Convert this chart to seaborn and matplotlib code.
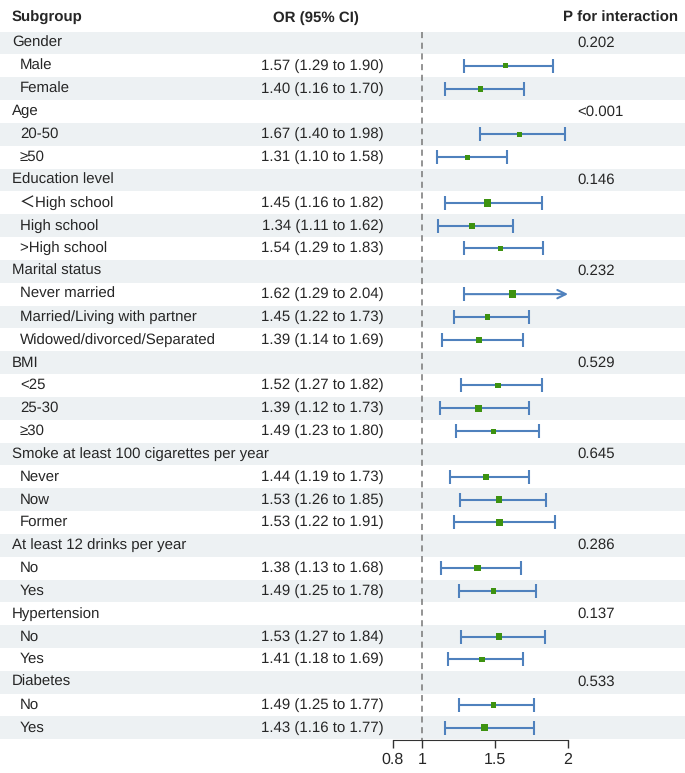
import numpy as np
import pandas as pd
import matplotlib
matplotlib.use("Agg")
import matplotlib.pyplot as plt
import matplotlib.transforms as mtransforms
import seaborn as sns

sns.set_style("white")
plt.rcParams['font.family'] = ['Liberation Sans', 'Noto Sans CJK SC', 'DejaVu Sans']
plt.rcParams['text.hinting'] = 'no_hinting'
plt.rcParams['text.hinting_factor'] = 1

# ---------------------------------------------------------------
# data

labels = ["Gender", "Male", "Female",
          "Age", "20-50", "≥50",
          "Education level", "＜High school", "High school", ">High school",
          "Marital status", "Never married", "Married/Living with partner", "Widowed/divorced/Separated",
          "BMI", "<25", "25-30", "≥30",
          "Smoke at least 100 cigarettes per year", "Never", "Now", "Former",
          "At least 12 drinks per year", "No", "Yes",
          "Hypertension", "No", "Yes",
          "Diabetes", "No", "Yes"]

is_group = [1, 0, 0, 1, 0, 0, 1, 0, 0, 0, 1, 0, 0, 0, 1, 0, 0, 0,
            1, 0, 0, 0, 1, 0, 0, 1, 0, 0, 1, 0, 0]

or_est = [None, 1.57, 1.40, None, 1.67, 1.31, None, 1.45, 1.34, 1.54,
          None, 1.62, 1.45, 1.39, None, 1.52, 1.39, 1.49,
          None, 1.44, 1.53, 1.53, None, 1.38, 1.49, None, 1.53, 1.41,
          None, 1.49, 1.43]
ci_low = [None, 1.29, 1.16, None, 1.40, 1.10, None, 1.16, 1.11, 1.29,
          None, 1.29, 1.22, 1.14, None, 1.27, 1.12, 1.23,
          None, 1.19, 1.26, 1.22, None, 1.13, 1.25, None, 1.27, 1.18,
          None, 1.25, 1.16]
ci_high = [None, 1.90, 1.70, None, 1.98, 1.58, None, 1.82, 1.62, 1.83,
           None, 2.04, 1.73, 1.69, None, 1.82, 1.73, 1.80,
           None, 1.73, 1.85, 1.91, None, 1.68, 1.78, None, 1.84, 1.69,
           None, 1.77, 1.77]
p_inter = [0.202, None, None, "<0.001", None, None, 0.146, None, None, None,
           0.232, None, None, None, 0.529, None, None, None,
           0.645, None, None, None, 0.286, None, None, 0.137, None, None,
           0.533, None, None]
# relative box size (weight)
box_w = [None, 1, 1.1, None, 1, 1, None, 1.5, 1.2, 1,
         None, 1.6, 1, 1.2, None, 1, 1.4, 1,
         None, 1.1, 1.2, 1.4, None, 1.2, 1, None, 1.2, 1.1,
         None, 1, 1.4]

ticks = [0.8, 1, 1.5, 2]
x_max = 2

# ---------------------------------------------------------------

df = pd.DataFrame({"label": labels, "group": is_group, "est": or_est,
                   "lo": ci_low, "hi": ci_high, "p": p_inter, "w": box_w})
df["row"] = np.arange(len(df))
pts = df[df["group"] == 0].copy()
for c in ["est", "lo", "hi", "w"]:
    pts[c] = pts[c].astype(float)

W, H = 685, 773
fig = plt.figure(figsize=(W / 100, H / 100), dpi=100)

# px mapping: OR 1 -> 422px, 146 px per unit
x0 = 1 - 422 / 146
x1 = 1 + (W - 422) / 146
row_px = 22.83
top_row_px = 43
axis_px = 740
ax = fig.add_axes([0, (H - axis_px) / H, 1, axis_px / H])
ax.set_xlim(x0, x1)
ax.set_ylim((axis_px - top_row_px) / row_px, -top_row_px / row_px)

shade = "#edf1f3"
for r in df["row"]:
    if r % 2 == 0:
        ax.axhspan(r - 0.5, r + 0.5, color=shade, lw=0, zorder=0)

ax.vlines(1, -0.5, (axis_px - top_row_px) / row_px, colors="#777777",
          linestyles=(0, (4, 3)), lw=1.1, zorder=1)

line_col = "#4f81bd"
lw = 1.5
for _, r in pts.iterrows():
    hi = min(r["hi"], x_max)
    if r["hi"] > x_max:
        ax.annotate("", xy=(hi, r["row"]), xytext=(r["lo"], r["row"]),
                    arrowprops=dict(arrowstyle="->,head_length=0.5,head_width=0.25",
                                    color=line_col, lw=lw,
                                    shrinkA=0, shrinkB=0, mutation_scale=12),
                    zorder=2)
        ax.plot([r["lo"]], [r["row"]], marker="|", ms=10, mew=lw, color=line_col, zorder=2)
    else:
        ax.plot([r["lo"], hi], [r["row"], r["row"]], color=line_col, lw=lw, zorder=2)
        ax.plot([r["lo"], hi], [r["row"], r["row"]], marker="|", ls="none",
                ms=10, mew=lw, color=line_col, zorder=2)

sns.scatterplot(data=pts, x="est", y="row", size="w", sizes=(14, 32),
                marker="s", color="#3d9210", edgecolor="none",
                legend=False, ax=ax, zorder=3)

# axis
for s in ["top", "right", "left"]:
    ax.spines[s].set_visible(False)
ax.spines["bottom"].set_bounds(0.8, 2)
ax.spines["bottom"].set_color("#333333")
ax.set_xticks(ticks)
ax.set_xticklabels(["0.8", "1", "1.5", "2"])
ax.set_yticks([])
ax.tick_params(axis="x", bottom=True, direction="out", length=6, width=1, color="#333333",
               labelsize=11.5, pad=3)
ax.set_xlabel("")
ax.set_ylabel("")

# text columns
trans = mtransforms.blended_transform_factory(fig.transFigure, ax.transData)
fs = 10.8
head_y = (18 - top_row_px) / row_px
ax.text(12 / W, head_y, "Subgroup", transform=trans, fontsize=fs, fontweight="bold", va="center")
ax.text(316 / W, head_y, "OR (95% CI)", transform=trans, fontsize=fs, fontweight="bold",
        va="center", ha="center")
ax.text(678 / W, head_y, "P for interaction", transform=trans, fontsize=fs, fontweight="bold",
        va="center", ha="right")

for _, r in df.iterrows():
    xl = 12 if r["group"] == 1 else 20
    ax.text(xl / W, r["row"], r["label"], transform=trans, fontsize=fs, va="center")
    if r["group"] == 0:
        txt = f"{r['est']:.2f} ({r['lo']:.2f} to {r['hi']:.2f})"
        ax.text(384 / W, r["row"], txt, transform=trans, fontsize=fs, va="center", ha="right")
    if r["p"] is not None:
        p = r["p"] if isinstance(r["p"], str) else f"{r['p']:.3f}"
        ax.text(577 / W, r["row"], p, transform=trans, fontsize=fs, va="center")

fig.savefig("out.png", dpi=100)
